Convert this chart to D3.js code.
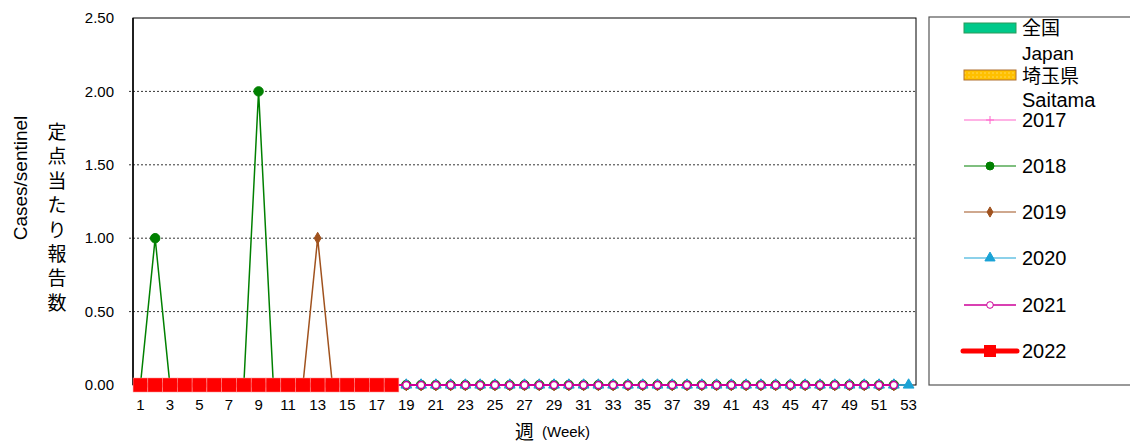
<!DOCTYPE html>
<html>
<head>
<meta charset="utf-8">
<script src="https://cdn.jsdelivr.net/npm/d3@7/dist/d3.min.js"></script>
<style>
  body { margin: 0; background: #fff; }
  text { font-family: "Liberation Sans", Arial, "Noto Sans CJK JP", sans-serif; fill: #000; }
  .jp { font-family: "Noto Sans CJK JP", sans-serif; }
</style>
</head>
<body>
<svg id="chart" width="1130" height="445"></svg>
<script>
// weeks 1..53
var weeks = [1,2,3,4,5,6,7,8,9,10,11,12,13,14,15,16,17,18,19,20,21,22,23,24,25,26,
  27,28,29,30,31,32,33,34,35,36,37,38,39,40,41,42,43,44,45,46,47,48,49,50,51,52,53];
var xTickLabels = [1,3,5,7,9,11,13,15,17,19,21,23,25,27,29,31,33,35,37,39,41,43,45,47,49,51,53];
var yTicks = [0, 0.5, 1, 1.5, 2, 2.5];

var y2017 = [0,0,0,0,0,0,0,0,0,0,0,0,0,0,0,0,0,0,0,0,0,0,0,0,0,0,
  0,0,0,0,0,0,0,0,0,0,0,0,0,0,0,0,0,0,0,0,0,0,0,0,0,0];
var y2018 = [0,1,0,0,0,0,0,0,2,0,0,0,0,0,0,0,0,0,0,0,0,0,0,0,0,0,
  0,0,0,0,0,0,0,0,0,0,0,0,0,0,0,0,0,0,0,0,0,0,0,0,0,0];
var y2019 = [0,0,0,0,0,0,0,0,0,0,0,0,1,0,0,0,0,0,0,0,0,0,0,0,0,0,
  0,0,0,0,0,0,0,0,0,0,0,0,0,0,0,0,0,0,0,0,0,0,0,0,0,0];
var y2020 = [0,0,0,0,0,0,0,0,0,0,0,0,0,0,0,0,0,0,0,0,0,0,0,0,0,0,
  0,0,0,0,0,0,0,0,0,0,0,0,0,0,0,0,0,0,0,0,0,0,0,0,0,0,0];
var y2021 = [0,0,0,0,0,0,0,0,0,0,0,0,0,0,0,0,0,0,0,0,0,0,0,0,0,0,
  0,0,0,0,0,0,0,0,0,0,0,0,0,0,0,0,0,0,0,0,0,0,0,0,0,0];
var y2022 = [0,0,0,0,0,0,0,0,0,0,0,0,0,0,0,0,0,0];

var svg = d3.select("#chart");
var margin = {left: 133, top: 18, right: 916, bottom: 385};

var x = d3.scaleBand()
    .domain(weeks)
    .range([margin.left, margin.right]);
var y = d3.scaleLinear()
    .domain([0, 2.5])
    .range([margin.bottom, margin.top]);
var cx = function(w) { return x(w) + x.bandwidth() / 2; };

// gridlines
svg.append("g").selectAll("line")
    .data(yTicks.filter(function(d) { return d > 0 && d < 2.5; }))
  .enter().append("line")
    .attr("x1", margin.left - 4).attr("x2", margin.right)
    .attr("y1", function(d) { return y(d); }).attr("y2", function(d) { return y(d); })
    .attr("stroke", "#000").attr("stroke-width", 0.8)
    .attr("stroke-dasharray", "2,2");

// frame
svg.append("rect")
    .attr("x", margin.left).attr("y", margin.top)
    .attr("width", margin.right - margin.left).attr("height", margin.bottom - margin.top)
    .attr("fill", "none").attr("stroke", "#000").attr("stroke-width", 1);
svg.append("line")
    .attr("x1", margin.left).attr("x2", margin.left)
    .attr("y1", margin.top).attr("y2", margin.bottom)
    .attr("stroke", "#000").attr("stroke-width", 1.5);

// y tick labels
svg.append("g").selectAll("text")
    .data(yTicks)
  .enter().append("text")
    .attr("x", 114).attr("y", function(d) { return y(d); })
    .attr("dy", "0.35em")
    .attr("text-anchor", "end")
    .style("font-size", "15px")
    .text(function(d) { return d3.format(".2f")(d); });

// x tick labels
svg.append("g").selectAll("text")
    .data(xTickLabels)
  .enter().append("text")
    .attr("x", function(d) { return cx(d); }).attr("y", 410)
    .attr("text-anchor", "middle")
    .style("font-size", "15px")
    .text(function(d) { return d; });

// axis titles
svg.append("text")
    .attr("transform", "translate(27,178) rotate(-90)")
    .attr("text-anchor", "middle")
    .style("font-size", "19px")
    .text("Cases/sentinel");
var jpTitle = "定点当たり報告数".split("");
svg.append("g").selectAll("text")
    .data(jpTitle)
  .enter().append("text")
    .attr("class", "jp")
    .attr("x", 57).attr("y", function(d, i) { return 139 + i * 24.4; })
    .attr("text-anchor", "middle")
    .style("font-size", "19px")
    .text(function(d) { return d; });
var xt = svg.append("text").attr("x", 515).attr("y", 439);
xt.append("tspan").attr("class", "jp").style("font-size", "19px").text("週");
xt.append("tspan").style("font-size", "15px").attr("dx", 8).attr("dy", -2).text("(Week)");

// series
var line = d3.line()
    .x(function(d, i) { return cx(weeks[i]); })
    .y(function(d) { return y(d); });

var plus = "M-4,0H4M0,-4V4";

function drawSeries(data, color, width, symbol, size, fill, sw) {
  var g = svg.append("g");
  g.append("path").datum(data)
      .attr("d", line)
      .attr("fill", "none").attr("stroke", color).attr("stroke-width", width);
  g.selectAll("path.m").data(data).enter().append("path")
      .attr("class", "m")
      .attr("transform", function(d, i) { return "translate(" + cx(weeks[i]) + "," + y(d) + ")"; })
      .attr("d", symbol ? d3.symbol().type(symbol).size(size) : plus)
      .attr("fill", fill).attr("stroke", color).attr("stroke-width", sw);
  return g;
}

var c2017 = "#ff66cc", c2018 = "#008000", c2019 = "#a0521e", c2020 = "#1aa3d6", c2021 = "#cc0099", c2022 = "#ff0000";
drawSeries(y2017, c2017, 1.2, null, 0, "none", 1);
drawSeries(y2018, c2018, 1.5, d3.symbolCircle, 70, c2018, 1);
drawSeries(y2019, c2019, 1.5, d3.symbolDiamond, 40, c2019, 1);
drawSeries(y2020, c2020, 1.5, d3.symbolTriangle, 50, c2020, 1);
drawSeries(y2021, c2021, 2, d3.symbolCircle, 40, "#fff", 1.5);

// 2022 thick line with squares
var g22 = svg.append("g");
g22.append("path").datum(y2022)
    .attr("d", line)
    .attr("fill", "none").attr("stroke", c2022).attr("stroke-width", 5);
g22.selectAll("rect").data(y2022).enter().append("rect")
    .attr("x", function(d, i) { return cx(weeks[i]) - 7.3; })
    .attr("y", function(d) { return y(d) - 7; })
    .attr("width", 14.6).attr("height", 14)
    .attr("fill", c2022).attr("stroke", "#ff9090").attr("stroke-width", 0.5);

// legend
var lg = svg.append("g");
lg.append("rect")
    .attr("x", 929).attr("y", 17).attr("width", 220).attr("height", 368)
    .attr("fill", "#fff").attr("stroke", "#555").attr("stroke-width", 1.2);

var defs = svg.append("defs");
var pat = defs.append("pattern").attr("id", "dots")
    .attr("width", 4).attr("height", 4).attr("patternUnits", "userSpaceOnUse");
pat.append("rect").attr("width", 4).attr("height", 4).attr("fill", "#ffc000");
pat.append("circle").attr("cx", 1).attr("cy", 1).attr("r", 0.7).attr("fill", "#ffe070");

var sx1 = 964, sx2 = 1016, tx = 1022, fs = "20px";
lg.append("rect").attr("x", sx1).attr("y", 23).attr("width", sx2 - sx1).attr("height", 10)
    .attr("fill", "#00c98a").attr("stroke", "#2a9a5a").attr("stroke-width", 1);
lg.append("text").attr("class", "jp").attr("x", tx).attr("y", 35).style("font-size", "19px").text("全国");
lg.append("text").attr("x", tx).attr("y", 60).style("font-size", "19px").text("Japan");
lg.append("rect").attr("x", sx1).attr("y", 70).attr("width", sx2 - sx1).attr("height", 10)
    .attr("fill", "url(#dots)").attr("stroke", "#b07030").attr("stroke-width", 1);
lg.append("text").attr("class", "jp").attr("x", tx).attr("y", 83).style("font-size", "19px").text("埼玉県");
lg.append("text").attr("x", tx).attr("y", 107).style("font-size", fs).text("Saitama");

var legendItems = [
  {label: "2017", color: c2017, yy: 120, sym: null, size: 0, fill: "none", w: 1.2},
  {label: "2018", color: c2018, yy: 166, sym: d3.symbolCircle, size: 50, fill: c2018, w: 1.2},
  {label: "2019", color: c2019, yy: 212, sym: d3.symbolDiamond, size: 30, fill: c2019, w: 1.2},
  {label: "2020", color: c2020, yy: 258, sym: d3.symbolTriangle, size: 45, fill: c2020, w: 1.2},
  {label: "2021", color: c2021, yy: 305, sym: d3.symbolCircle, size: 35, fill: "#fff", w: 1.5}
];
legendItems.forEach(function(it) {
  lg.append("line").attr("x1", sx1).attr("x2", sx2).attr("y1", it.yy).attr("y2", it.yy)
      .attr("stroke", it.color).attr("stroke-width", it.w);
  lg.append("path").attr("transform", "translate(" + ((sx1 + sx2) / 2) + "," + it.yy + ")")
      .attr("d", it.sym ? d3.symbol().type(it.sym).size(it.size) : plus)
      .attr("fill", it.fill).attr("stroke", it.color).attr("stroke-width", 1);
  lg.append("text").attr("x", tx).attr("y", it.yy + 7)
      .style("font-size", fs).text(it.label);
});
lg.append("line").attr("x1", sx1 - 1).attr("x2", sx2 + 1).attr("y1", 351).attr("y2", 351)
    .attr("stroke", c2022).attr("stroke-width", 5).attr("stroke-linecap", "round");
lg.append("rect").attr("x", (sx1 + sx2) / 2 - 6).attr("y", 345).attr("width", 12).attr("height", 12)
    .attr("fill", c2022);
lg.append("text").attr("x", tx).attr("y", 358)
    .style("font-size", fs).text("2022");
</script>
</body>
</html>
